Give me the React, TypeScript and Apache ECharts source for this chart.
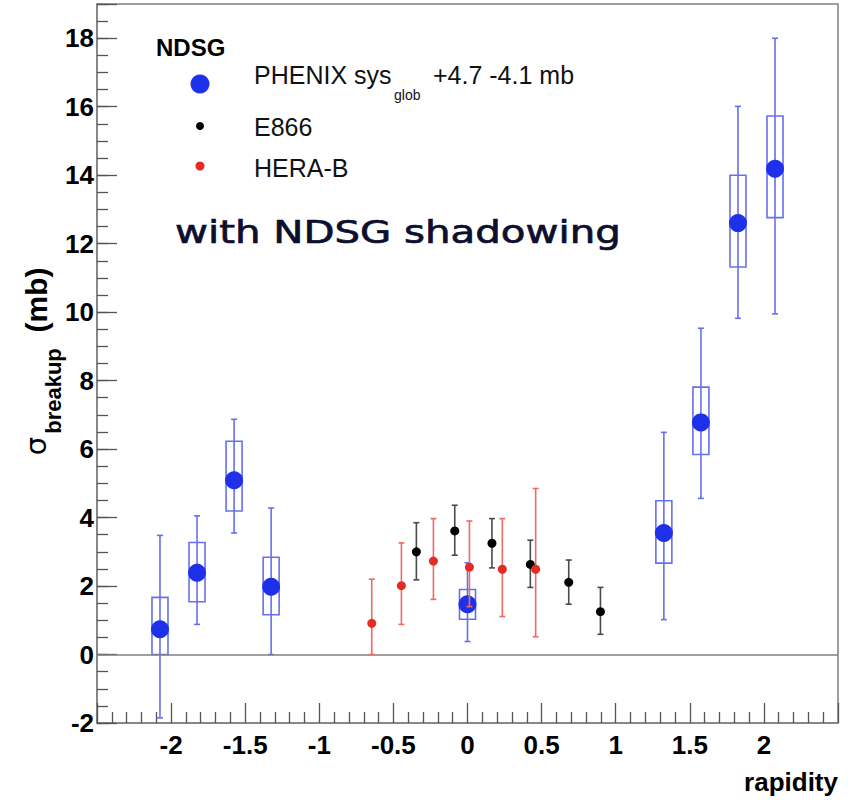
import React, { useEffect, useRef } from "react";
import * as echarts from "echarts";

// PHENIX (NDSG) points: rapidity, value, stat errors, systematic boxes
const phenixRap = [-2.075, -1.825, -1.575, -1.325, 0, 1.325, 1.575, 1.825, 2.075];
const phenixVal = [0.74, 2.39, 5.09, 1.98, 1.47, 3.55, 6.78, 12.6, 14.19];
const phenixStatLo = [-1.85, 0.88, 3.55, 0, 0.38, 1.02, 4.56, 9.82, 9.95];
const phenixStatHi = [3.48, 4.05, 6.87, 4.28, 2.68, 6.49, 9.53, 16.01, 18.0];
const phenixSysLo = [0, 1.54, 4.19, 1.16, 1.03, 2.67, 5.84, 11.32, 12.76];
const phenixSysHi = [1.67, 3.27, 6.23, 2.84, 1.9, 4.49, 7.81, 14.0, 15.73];

// E866
const e866Rap = [-0.345, -0.086, 0.165, 0.424, 0.683, 0.897];
const e866Val = [3.0, 3.61, 3.25, 2.63, 2.11, 1.25];
const e866Lo = [2.18, 2.9, 2.53, 1.96, 1.47, 0.59];
const e866Hi = [3.85, 4.36, 3.97, 3.34, 2.76, 1.96];

// HERA-B
const herabRap = [-0.646, -0.446, -0.23, 0.013, 0.235, 0.46];
const herabVal = [0.91, 2.01, 2.73, 2.55, 2.49, 2.49];
const herabLo = [0, 0.88, 1.61, 1.4, 1.11, 0.52];
const herabHi = [2.2, 3.26, 3.97, 3.9, 3.97, 4.85];

// axes
const xMin = -2.5;
const xMax = 2.5;
const xStep = 0.5;
const yMin = -2;
const yMax = 19;
const yStep = 2;
const yMinorStep = 0.5;

const FONT = "Liberation Sans";
const BLUE = "#1f30ea";
const BLUE_LINE = "#6570f0";
const RED = "#e62a24";
const RED_LINE = "#ee6a64";
const BLACK = "#000000";
const BLACK_LINE = "#4a4a4a";
const FRAME = "#808080";
const TICK = "#555555";

function errRender(color: string, cap: number) {
  return (params: any, api: any) => {
    const x = api.value(0);
    const lo = api.value(1);
    const hi = api.value(2);
    const pLo = api.coord([x, lo]);
    const pHi = api.coord([x, hi]);
    const st = { stroke: color, lineWidth: 1.6 };
    return {
      type: "group",
      children: [
        { type: "line", shape: { x1: pLo[0], y1: pLo[1], x2: pHi[0], y2: pHi[1] }, style: st },
        { type: "line", shape: { x1: pLo[0] - cap, y1: pLo[1], x2: pLo[0] + cap, y2: pLo[1] }, style: st },
        { type: "line", shape: { x1: pHi[0] - cap, y1: pHi[1], x2: pHi[0] + cap, y2: pHi[1] }, style: st },
      ],
    };
  };
}

function boxRender(color: string, half: number) {
  return (params: any, api: any) => {
    const x = api.value(0);
    const pLo = api.coord([x, api.value(1)]);
    const pHi = api.coord([x, api.value(2)]);
    return {
      type: "rect",
      shape: { x: pLo[0] - half, y: pHi[1], width: half * 2, height: pLo[1] - pHi[1] },
      style: { fill: "none", stroke: color, lineWidth: 1.6 },
    };
  };
}

export default function App() {
  const ref = useRef<HTMLDivElement>(null);
  useEffect(() => {
    document.body.style.margin = "0";
    if (!ref.current) return;
    const chart = echarts.init(ref.current, undefined, { renderer: "svg" });

    const phenixPts = phenixRap.map((x, i) => [x, phenixVal[i]]);
    const phenixErr = phenixRap.map((x, i) => [x, phenixStatLo[i], phenixStatHi[i]]);
    const phenixBox = phenixRap.map((x, i) => [x, phenixSysLo[i], phenixSysHi[i]]);
    const e866Pts = e866Rap.map((x, i) => [x, e866Val[i]]);
    const e866Err = e866Rap.map((x, i) => [x, e866Lo[i], e866Hi[i]]);
    const herabPts = herabRap.map((x, i) => [x, herabVal[i]]);
    const herabErr = herabRap.map((x, i) => [x, herabLo[i], herabHi[i]]);

    const labelStyle = { fontFamily: FONT, fontSize: 26, fontWeight: "bold", color: "#000" };

    const option: any = {
      animation: false,
      backgroundColor: "#ffffff",
      grid: {
        left: 97,
        right: 19,
        top: 4,
        bottom: 81,
        show: true,
        borderColor: FRAME,
        borderWidth: 1.5,
        backgroundColor: "transparent",
      },
      xAxis: {
        type: "value",
        min: xMin,
        max: xMax,
        interval: xStep,
        axisLine: { show: true, onZero: false, lineStyle: { color: FRAME, width: 1.5 } },
        axisTick: { show: true, inside: true, length: 20, lineStyle: { color: TICK, width: 1.3 } },
        minorTick: { show: true, splitNumber: 5, length: 11, lineStyle: { color: TICK, width: 1.3 } },
        splitLine: { show: false },
        axisLabel: {
          ...labelStyle,
          margin: 9,
          formatter: (v: number) => (Math.abs(v) > 2.25 ? "" : String(v)),
        },
        name: "rapidity",
        nameLocation: "end",
        nameGap: 0,
        nameTextStyle: {
          ...labelStyle,
          align: "right",
          verticalAlign: "top",
          padding: [46, 0, 0, 0],
        },
      },
      yAxis: [
        {
          type: "value",
          min: yMin,
          max: yMax,
          interval: yStep,
          axisLine: { show: true, onZero: false, lineStyle: { color: FRAME, width: 1.5 } },
          axisTick: { show: true, inside: true, length: 20, lineStyle: { color: TICK, width: 1.3 } },
          splitLine: { show: false },
          axisLabel: {
            ...labelStyle,
            margin: 3,
            formatter: (v: number) => (Math.round(v) % 2 === 0 && v < 18.5 ? String(v) : ""),
          },
        },
        {
          type: "value",
          min: yMin,
          max: yMax,
          interval: yMinorStep,
          position: "left",
          axisLine: { show: false, onZero: false },
          axisTick: { show: true, inside: true, length: 11, lineStyle: { color: TICK, width: 1.3 } },
          splitLine: { show: false },
          axisLabel: { show: false },
        },
      ],
      graphic: [
        { type: "text", x: 156, y: 47, style: { text: "NDSG", fontFamily: FONT, fontSize: 24, fontWeight: "bold", fill: "#000", verticalAlign: "middle" } },
        { type: "circle", shape: { cx: 200, cy: 84, r: 9.5 }, style: { fill: BLUE } },
        { type: "text", x: 254, y: 75, style: { text: "PHENIX sys", fontFamily: FONT, fontSize: 25, fill: "#111", verticalAlign: "middle" } },
        { type: "text", x: 394, y: 95, style: { text: "glob", fontFamily: FONT, fontSize: 14, fill: "#111", verticalAlign: "middle" } },
        { type: "text", x: 433, y: 75, style: { text: "+4.7 -4.1 mb", fontFamily: FONT, fontSize: 25, fill: "#111", verticalAlign: "middle" } },
        { type: "circle", shape: { cx: 200, cy: 126, r: 4 }, style: { fill: BLACK } },
        { type: "text", x: 254, y: 127, style: { text: "E866", fontFamily: FONT, fontSize: 25, fill: "#111", verticalAlign: "middle" } },
        { type: "circle", shape: { cx: 200, cy: 166, r: 4.5 }, style: { fill: RED } },
        { type: "text", x: 254, y: 168, style: { text: "HERA-B", fontFamily: FONT, fontSize: 25, fill: "#111", verticalAlign: "middle" } },
        {
          type: "text",
          x: 175,
          y: 232,
          scaleX: 1.26,
          style: { text: "with NDSG shadowing", fontFamily: "DejaVu Sans", fontSize: 32, fill: "#0d0f2e", verticalAlign: "middle", stroke: "#0d0f2e", lineWidth: 0.7 },
        },
        { type: "text", x: 36, y: 446, rotation: Math.PI / 2, style: { text: "σ", fontFamily: "DejaVu Sans", fontSize: 29, fill: "#000", align: "center", verticalAlign: "middle" } },
        { type: "text", x: 53, y: 391, rotation: Math.PI / 2, style: { text: "breakup", fontFamily: FONT, fontSize: 22, fontWeight: "bold", fill: "#000", align: "center", verticalAlign: "middle" } },
        { type: "text", x: 36, y: 300, rotation: Math.PI / 2, style: { text: "(mb)", fontFamily: FONT, fontSize: 30, fontWeight: "bold", fill: "#000", align: "center", verticalAlign: "middle" } },
      ],
      series: [
        {
          type: "custom",
          name: "PHENIX sys",
          renderItem: boxRender(BLUE_LINE, 8),
          encode: { x: 0, y: [1, 2] },
          data: phenixBox,
          z: 2,
        },
        {
          type: "custom",
          name: "PHENIX stat",
          renderItem: errRender(BLUE_LINE, 3),
          encode: { x: 0, y: [1, 2] },
          data: phenixErr,
          z: 2,
        },
        {
          type: "scatter",
          name: "PHENIX",
          data: phenixPts,
          symbol: "circle",
          symbolSize: 18,
          itemStyle: { color: BLUE, opacity: 1 },
          z: 3,
          markLine: {
            silent: true,
            symbol: ["none", "none"],
            label: { show: false },
            lineStyle: { color: FRAME, width: 1.5, type: "solid" },
            data: [{ yAxis: 0 }],
          },
        },
        {
          type: "custom",
          name: "E866 err",
          renderItem: errRender(BLACK_LINE, 3),
          encode: { x: 0, y: [1, 2] },
          data: e866Err,
          z: 4,
        },
        {
          type: "scatter",
          name: "E866",
          data: e866Pts,
          symbolSize: 9,
          itemStyle: { color: BLACK, opacity: 1 },
          z: 5,
        },
        {
          type: "custom",
          name: "HERA-B err",
          renderItem: errRender(RED_LINE, 3),
          encode: { x: 0, y: [1, 2] },
          data: herabErr,
          z: 6,
        },
        {
          type: "scatter",
          name: "HERA-B",
          data: herabPts,
          symbolSize: 9,
          itemStyle: { color: RED, opacity: 1 },
          z: 7,
        },
      ],
    };
    chart.setOption(option);
    return () => chart.dispose();
  }, []);
  return <div ref={ref} style={{ width: 857, height: 804 }} />;
}
